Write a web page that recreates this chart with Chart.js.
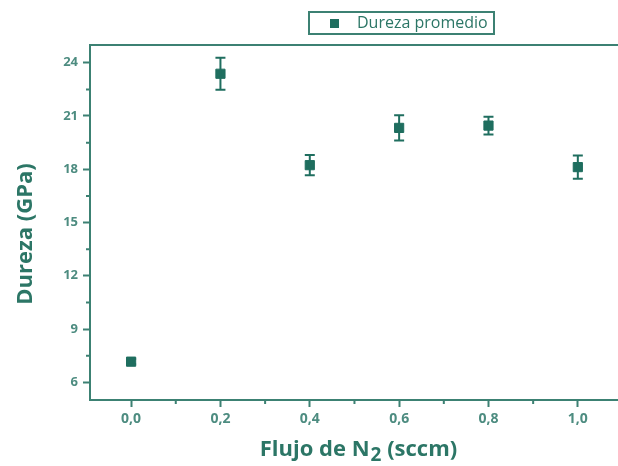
<!DOCTYPE html>
<html>
<head>
<meta charset="utf-8">
<script src="https://cdn.jsdelivr.net/npm/chart.js@4/dist/chart.umd.min.js"></script>
<style>
  html, body { margin: 0; padding: 0; background: #fff; overflow: hidden; }
  #wrap { width: 630px; height: 466px; }
</style>
</head>
<body>
<div id="wrap"><canvas id="myChart" width="630" height="466"></canvas></div>
<script>
// data
const flujo = [0.0, 0.2, 0.4, 0.6, 0.8, 1.0]
const dureza = [7.16, 23.38, 18.23, 20.33, 20.46, 18.12]
const error = [0.15, 0.9, 0.57, 0.71, 0.5, 0.66]

const xTicks = [0.0, 0.2, 0.4, 0.6, 0.8, 1.0]
const xMinor = [0.1, 0.3, 0.5, 0.7, 0.9, 1.1]
const yTicks = [6, 9, 12, 15, 18, 21, 24]
const yMinor = [7.5, 10.5, 13.5, 16.5, 19.5, 22.5]

const teal = '#1f6e5f'
const axisCol = '#3c8173'
const tickTxt = '#4d8c80'
const titleCol = '#2c7666'

let errorBars = {
  id: 'errorBars',
  afterDatasetsDraw: chart => {
    const ctx = chart.ctx
    const xs = chart.scales.x, ys = chart.scales.y
    ctx.save()
    ctx.strokeStyle = teal
    ctx.lineWidth = 2
    flujo.forEach((f, i) => {
      const x = xs.getPixelForValue(f)
      const top = ys.getPixelForValue(dureza[i] + error[i])
      const bot = ys.getPixelForValue(dureza[i] - error[i])
      ctx.beginPath()
      ctx.moveTo(x, top); ctx.lineTo(x, bot)
      ctx.moveTo(x - 5, top); ctx.lineTo(x + 5, top)
      ctx.moveTo(x - 5, bot); ctx.lineTo(x + 5, bot)
      ctx.stroke()
    })
    ctx.restore()
  }
}

// top frame line, minor ticks, axis titles and the boxed legend
let frame = {
  id: 'frame',
  afterDraw: chart => {
    const ctx = chart.ctx
    const a = chart.chartArea
    const xs = chart.scales.x, ys = chart.scales.y
    ctx.save()
    ctx.strokeStyle = axisCol
    ctx.lineWidth = 2
    ctx.beginPath()
    ctx.moveTo(a.left, a.top); ctx.lineTo(a.right, a.top)
    xMinor.forEach(v => {
      const x = xs.getPixelForValue(v)
      ctx.moveTo(x, a.bottom); ctx.lineTo(x, a.bottom + 4)
    })
    yMinor.forEach(v => {
      const y = ys.getPixelForValue(v)
      ctx.moveTo(a.left, y); ctx.lineTo(a.left - 4, y)
    })
    ctx.stroke()

    // axis titles
    ctx.fillStyle = titleCol
    ctx.textBaseline = 'alphabetic'
    const big = 'bold 22px "Open Sans", sans-serif'
    const sub = 'bold 19px "Open Sans", sans-serif'
    ctx.font = big
    const p1 = 'Flujo de N', p3 = ' (sccm)'
    const w1 = ctx.measureText(p1).width, w3 = ctx.measureText(p3).width
    ctx.font = sub
    const w2 = ctx.measureText('2').width
    let x0 = 358 - (w1 + w2 + w3) / 2
    ctx.font = big
    ctx.fillText(p1, x0, 456)
    ctx.font = sub
    ctx.fillText('2', x0 + w1 + 1, 461)
    ctx.font = big
    ctx.fillText(p3, x0 + w1 + w2 + 1, 456)

    ctx.save()
    ctx.translate(32, 234)
    ctx.rotate(-Math.PI / 2)
    ctx.textAlign = 'center'
    ctx.fillText('Dureza (GPa)', 0, 0)
    ctx.restore()

    // legend
    ctx.lineWidth = 2
    ctx.strokeStyle = axisCol
    ctx.strokeRect(309, 12, 185, 22)
    ctx.fillStyle = teal
    ctx.fillRect(330, 19, 9, 9)
    ctx.font = '16px "Open Sans", sans-serif'
    ctx.fillStyle = titleCol
    ctx.textBaseline = 'middle'
    ctx.fillText(chart.data.datasets[0].label, 357, 23)
    ctx.restore()
  }
}

new Chart(document.getElementById('myChart'), {
  type: 'scatter',
  data: {
    datasets: [{
      label: 'Dureza promedio',
      data: flujo.map((f, i) => ({ x: f, y: dureza[i] })),
      pointStyle: 'rect',
      pointRadius: 6.5,
      pointBorderWidth: 1,
      backgroundColor: teal,
      borderColor: teal
    }]
  },
  options: {
    responsive: false,
    animation: false,
    devicePixelRatio: 1,
    layout: { padding: { top: 45, left: 0, right: 3, bottom: 0 } },
    plugins: { legend: { display: false }, tooltip: { enabled: false } },
    scales: {
      x: {
        type: 'linear',
        min: -0.092,
        max: 1.1,
        afterBuildTicks: s => { s.ticks = xTicks.map(v => ({ value: v })) },
        afterFit: s => { s.height = 66 },
        ticks: {
          autoSkip: false,
          maxRotation: 0,
          padding: 4,
          color: tickTxt,
          font: { family: 'Open Sans', size: 14, weight: 'bold' },
          callback: v => v.toFixed(1).replace('.', ',')
        },
        grid: { drawOnChartArea: false, drawTicks: true, tickLength: 7, color: axisCol, tickWidth: 2 },
        border: { color: axisCol, width: 2 }
      },
      y: {
        min: 5,
        max: 25,
        afterBuildTicks: s => { s.ticks = yTicks.map(v => ({ value: v })) },
        afterFit: s => { s.width = 90 },
        ticks: {
          autoSkip: false,
          padding: 5,
          color: tickTxt,
          font: { family: 'Open Sans', size: 13, weight: 'bold' },
          callback: v => String(v)
        },
        grid: { drawOnChartArea: false, drawTicks: true, tickLength: 7, color: axisCol, tickWidth: 2 },
        border: { color: axisCol, width: 2 }
      }
    }
  },
  plugins: [errorBars, frame]
})
</script>
</body>
</html>
